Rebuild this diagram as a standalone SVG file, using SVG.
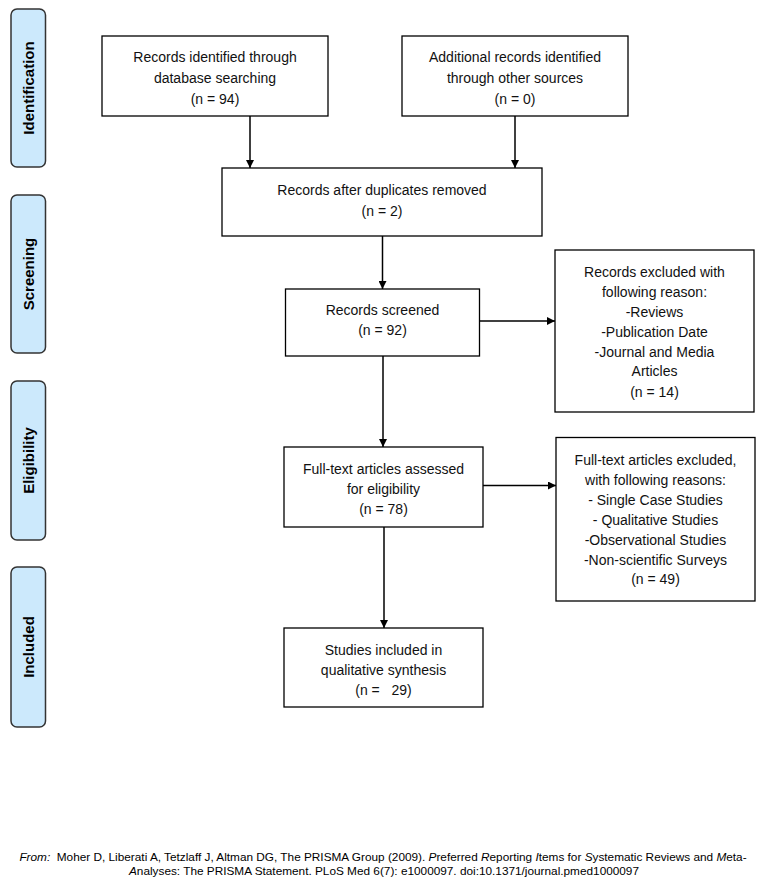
<svg xmlns="http://www.w3.org/2000/svg" width="763" height="884" viewBox="0 0 763 884">
<defs>
<marker id="ah" viewBox="0 0 10 10" refX="10" refY="5" markerWidth="8" markerHeight="8" markerUnits="userSpaceOnUse" orient="auto">
<path d="M0,0 L10,5 L0,10 z" fill="#000"/>
</marker>
<style>
.bg{fill:#fff}
.box{fill:#fff;stroke:#000;stroke-width:1.3}
.bar{fill:#cce9fc;stroke:#333;stroke-width:1.5}
.t{font-family:"Liberation Sans",Arial,sans-serif;font-size:14px;fill:#111;text-anchor:middle}
.side{font-family:"Liberation Sans",Arial,sans-serif;font-size:15px;font-weight:bold;fill:#000;text-anchor:middle}
.ft{font-family:"Liberation Sans",Arial,sans-serif;font-size:11.8px;fill:#000;text-anchor:middle}
.it{font-style:italic}
.c{fill:none;stroke:#000;stroke-width:1.5;marker-end:url(#ah)}
</style>
</defs>
<rect class="bg" x="0" y="0" width="763" height="884"/>

<g id="phase-identification">
<rect class="bar" x="11" y="9" width="34.5" height="158" rx="6"/>
<text class="side" transform="translate(33.5,88) rotate(-90)">Identification</text>
</g>
<g id="phase-screening">
<rect class="bar" x="11" y="195" width="34.5" height="158" rx="6"/>
<text class="side" transform="translate(33.5,274) rotate(-90)">Screening</text>
</g>
<g id="phase-eligibility">
<rect class="bar" x="11" y="381" width="34.5" height="159" rx="6"/>
<text class="side" transform="translate(33.5,460.5) rotate(-90)">Eligibility</text>
</g>
<g id="phase-included">
<rect class="bar" x="11" y="567" width="34.5" height="160" rx="6"/>
<text class="side" transform="translate(33.5,647) rotate(-90)">Included</text>
</g>

<g id="connectors">
<line class="c" x1="250" y1="116" x2="250" y2="168"/>
<line class="c" x1="515" y1="116" x2="515" y2="168"/>
<line class="c" x1="382.5" y1="236" x2="382.5" y2="289"/>
<line class="c" x1="480" y1="321" x2="555" y2="321"/>
<line class="c" x1="383" y1="356" x2="383" y2="447"/>
<line class="c" x1="483" y1="485.5" x2="556" y2="485.5"/>
<line class="c" x1="384" y1="527" x2="384" y2="628"/>
</g>

<g id="records-database">
<rect class="box" x="102" y="36" width="226" height="80"/>
<text class="t" x="215" y="62">Records identified through</text>
<text class="t" x="215" y="83">database searching</text>
<text class="t" x="215" y="104">(n = 94)</text>
</g>
<g id="records-other">
<rect class="box" x="402" y="36" width="226" height="80"/>
<text class="t" x="515" y="62">Additional records identified</text>
<text class="t" x="515" y="83">through other sources</text>
<text class="t" x="515" y="104">(n = 0)</text>
</g>
<g id="records-deduplicated">
<rect class="box" x="222" y="168" width="320" height="68"/>
<text class="t" x="382" y="195">Records after duplicates removed</text>
<text class="t" x="382" y="216">(n = 2)</text>
</g>
<g id="records-screened">
<rect class="box" x="285.5" y="289" width="194" height="67"/>
<text class="t" x="382.5" y="315">Records screened</text>
<text class="t" x="382.5" y="335">(n = 92)</text>
</g>
<g id="records-excluded">
<rect class="box" x="555" y="250" width="199" height="162"/>
<text class="t" x="654.5" y="277">Records excluded with</text>
<text class="t" x="654.5" y="297">following reason:</text>
<text class="t" x="654.5" y="317">-Reviews</text>
<text class="t" x="654.5" y="337">-Publication Date</text>
<text class="t" x="654.5" y="357">-Journal and Media</text>
<text class="t" x="654.5" y="376">Articles</text>
<text class="t" x="654.5" y="397">(n = 14)</text>
</g>
<g id="fulltext-assessed">
<rect class="box" x="284" y="447" width="199" height="80"/>
<text class="t" x="383.5" y="474">Full-text articles assessed</text>
<text class="t" x="383.5" y="494">for eligibility</text>
<text class="t" x="383.5" y="514">(n = 78)</text>
</g>
<g id="fulltext-excluded">
<rect class="box" x="556" y="437.5" width="199" height="163.5"/>
<text class="t" x="655.5" y="465">Full-text articles excluded,</text>
<text class="t" x="655.5" y="485">with following reasons:</text>
<text class="t" x="655.5" y="505">- Single Case Studies</text>
<text class="t" x="655.5" y="525">- Qualitative Studies</text>
<text class="t" x="655.5" y="545">-Observational Studies</text>
<text class="t" x="655.5" y="565">-Non-scientific Surveys</text>
<text class="t" x="655.5" y="584">(n = 49)</text>
</g>
<g id="studies-included">
<rect class="box" x="284" y="628" width="199" height="79"/>
<text class="t" x="383.5" y="655">Studies included in</text>
<text class="t" x="383.5" y="675">qualitative synthesis</text>
<text class="t" x="383.5" y="695" xml:space="preserve">(n =   29)</text>
</g>

<g id="citation">
<text class="ft" x="383" y="861" xml:space="preserve"><tspan class="it">From:</tspan>  Moher D, Liberati A, Tetzlaff J, Altman DG, The PRISMA Group (2009). <tspan class="it">P</tspan>referred <tspan class="it">R</tspan>eporting <tspan class="it">I</tspan>tems for <tspan class="it">S</tspan>ystematic Reviews and <tspan class="it">M</tspan>eta-</text>
<text class="ft" x="384" y="875"><tspan class="it">A</tspan>nalyses: The PRISMA Statement. PLoS Med 6(7): e1000097. doi:10.1371/journal.pmed1000097</text>
</g>
</svg>
